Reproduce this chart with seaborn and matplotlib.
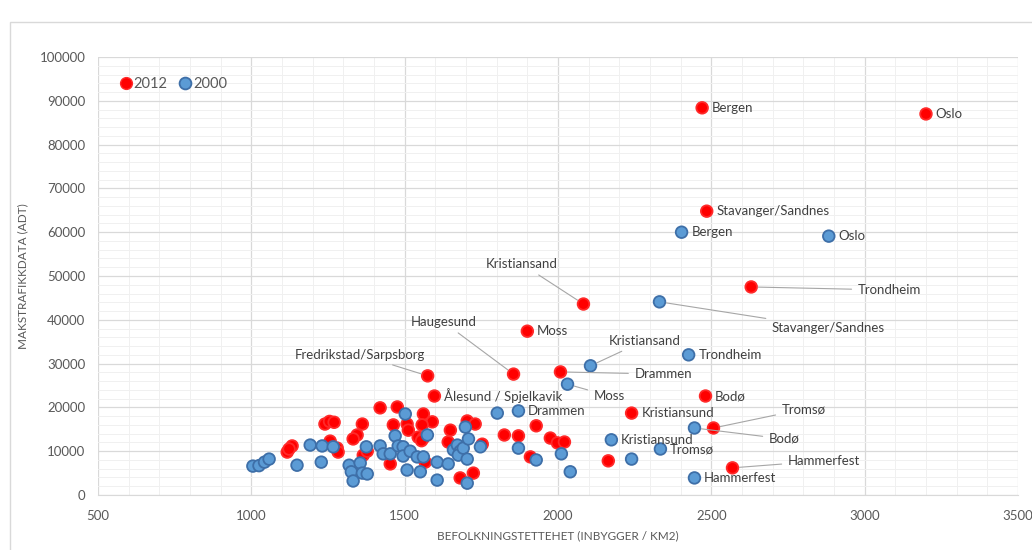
import matplotlib

matplotlib.use("Agg")
import matplotlib.pyplot as plt
import numpy as np
import pandas as pd
import seaborn as sns
from matplotlib.patches import Rectangle
from matplotlib.ticker import MultipleLocator

# --- data --------------------------------------------------------------------
# 2012: labelled cities first, then the unlabelled towns
names_2012 = [
    "Bergen", "Oslo", "Stavanger/Sandnes", "Trondheim", "Kristiansand", "Moss",
    "Haugesund", "Fredrikstad/Sarpsborg", "Drammen", "Ålesund / Spjelkavik",
    "Bodø", "Kristiansund", "Tromsø", "Hammerfest",
]
x_2012 = [
    2470, 3200, 2485, 2630, 2083, 1900, 1855, 1575, 2008, 1597, 2481, 2240, 2507, 2569,
    1420, 1476, 1561, 1590, 1557, 1463, 1508, 1512, 1240, 1255, 1270, 1362, 1345, 1332,
    1544, 1561, 1649, 1642, 1704, 1730, 1753, 1257, 1280, 1283, 1117, 1133, 1123, 1365,
    1378, 1453, 1567, 1681, 1724, 1825, 1871, 1929, 1910, 1975, 1998, 2021, 2164, 1555,
]
y_2012 = [
    88400, 87000, 64800, 47500, 43600, 37400, 27600, 27200, 28100, 22600, 22600, 18700, 15300, 6200,
    19900, 20100, 18500, 16700, 16000, 16000, 16200, 14800, 16200, 16800, 16600, 16200, 13700, 12800,
    13200, 13000, 14800, 12100, 16900, 16200, 11600, 12300, 10700, 9800, 9800, 11200, 10500, 9100,
    10000, 7100, 7500, 3900, 5000, 13700, 13500, 15800, 8700, 13000, 11900, 12100, 7800, 12400,
]

names_2000 = [
    "Bergen", "Oslo", "Stavanger/Sandnes", "Trondheim", "Kristiansand", "Moss",
    "Drammen", "Kristiansund", "Tromsø", "Bodø", "Hammerfest",
]
x_2000 = [
    2403, 2883, 2331, 2426, 2106, 2031, 1871, 2174, 2334, 2445, 2445,
    1005, 1025, 1043, 1058, 1149, 1192, 1231, 1267, 1228, 1319, 1326, 1355, 1332,
    1362, 1378, 1375, 1420, 1430, 1453, 1469, 1479, 1495, 1495, 1518, 1502, 1508,
    1541, 1561, 1551, 1574, 1606, 1606, 1642, 1659, 1672, 1681, 1675, 1691, 1698,
    1708, 1704, 1747, 1704, 1802, 1871, 2011, 1929, 2040, 2240,
]
y_2000 = [
    60000, 59100, 44100, 32000, 29500, 25300, 19200, 12600, 10500, 15300, 3900,
    6600, 6700, 7500, 8200, 6800, 11400, 11200, 11000, 7500, 6800, 5300, 7300, 3200,
    5000, 4800, 11000, 11200, 9400, 9400, 13500, 11200, 11000, 8900, 10000, 18500, 5700,
    8700, 8700, 5300, 13700, 7500, 3400, 7100, 10300, 11400, 10000, 9100, 10700, 15500,
    12800, 8200, 11000, 2700, 18700, 10700, 9400, 8000, 5300, 8200,
]

# labels that sit away from their point, joined by a leader line
leader_2012 = {
    "Kristiansand": (2000, 52700, "right"),
    "Trondheim": (2977, 46800, "left"),
    "Haugesund": (1734, 39500, "right"),
    "Fredrikstad/Sarpsborg": (1355, 32000, "center"),
    "Drammen": (2249, 27600, "left"),
    "Tromsø": (2729, 19600, "left"),
    "Hammerfest": (2749, 7800, "left"),
}
leader_2000 = {
    "Stavanger/Sandnes": (2696, 38100, "left"),
    "Kristiansand": (2164, 35200, "left"),
    "Moss": (2116, 22600, "left"),
    "Bodø": (2687, 12800, "left"),
}

RED = "#FF0000"
BLUE = "#5B9BD5"
TEXT = "#404040"
AXIS_TEXT = "#595959"

df = pd.concat([
    pd.DataFrame({"x": x_2012, "y": y_2012, "year": "2012"}),
    pd.DataFrame({"x": x_2000, "y": y_2000, "year": "2000"}),
])

sns.set_style("white")
plt.rcParams["font.family"] = ["Lato", "DejaVu Sans"]

fig = plt.figure(figsize=(10.32, 5.5), dpi=100)
ax = fig.add_axes([98 / 1032, 1 - 495 / 550, 920 / 1032, 438 / 550])

# chart-area border
fig.patches.append(Rectangle((10 / 1032, -0.01), 1.02, 1 - 22 / 550 + 0.01,
                             transform=fig.transFigure, fill=False,
                             edgecolor="#D9D9D9", lw=1))

sns.scatterplot(data=df, x="x", y="y", hue="year", hue_order=["2012", "2000"],
                palette={"2012": RED, "2000": BLUE}, s=70, ax=ax, zorder=3,
                linewidth=0, legend=False)
# give the 2000 points their darker rim
ax.collections[-1].set_edgecolor(["#FF2A2A"] * len(x_2012) + ["#3E6FA8"] * len(x_2000))
ax.collections[-1].set_linewidth(1.3)

ax.set_xlim(500, 3500)
ax.set_ylim(0, 100000)
ax.xaxis.set_major_locator(MultipleLocator(500))
ax.xaxis.set_minor_locator(MultipleLocator(100))
ax.yaxis.set_major_locator(MultipleLocator(10000))
ax.yaxis.set_minor_locator(MultipleLocator(2000))
ax.grid(which="major", color="#D9D9D9", lw=0.9)
ax.grid(which="minor", color="#F0F0F0", lw=0.7)
ax.set_axisbelow(True)
for side in ["top", "right", "left"]:
    ax.spines[side].set_visible(False)
ax.spines["bottom"].set_color("#D9D9D9")
ax.tick_params(which="both", length=0, labelsize=9.5, labelcolor=AXIS_TEXT)
ax.tick_params(axis="x", pad=11)
ax.tick_params(axis="y", pad=9)

ax.set_xlabel("BEFOLKNINGSTETTEHET (INBYGGER / KM2)", fontsize=8.5, color=AXIS_TEXT, labelpad=6)
ax.set_ylabel("MAKSTRAFIKKDATA (ADT)", fontsize=8.5, color=AXIS_TEXT, labelpad=8)


def label_points(names, xs, ys, leaders):
    for name, x, y in zip(names, xs, ys):
        if name in leaders:
            tx, ty, ha = leaders[name]
            ax.annotate(name, xy=(x, y), xytext=(tx, ty), ha=ha, va="center",
                        fontsize=9.5, color=TEXT, zorder=4,
                        arrowprops=dict(arrowstyle="-", color="#A6A6A6", lw=0.8,
                                        shrinkA=2, shrinkB=5))
        else:
            ax.annotate(name, xy=(x, y), xytext=(7, 0), textcoords="offset points",
                        ha="left", va="center", fontsize=9.5, color=TEXT, zorder=4)


label_points(names_2012, x_2012, y_2012, leader_2012)
label_points(names_2000, x_2000, y_2000, leader_2000)

handles = [
    plt.Line2D([], [], marker="o", ls="", markersize=8.5, color=RED, mec="#FF2A2A"),
    plt.Line2D([], [], marker="o", ls="", markersize=8.5, color=BLUE, mec="#3E6FA8", mew=1.3),
]
ax.legend(handles, ["2012", "2000"], loc="center left", bbox_to_anchor=(0.022, 0.938),
          ncol=2, frameon=False, fontsize=10.5, handletextpad=0.05, columnspacing=0.7,
          handlelength=1.0, borderaxespad=0, borderpad=0, labelcolor=AXIS_TEXT)

fig.savefig("out.png", dpi=100)
